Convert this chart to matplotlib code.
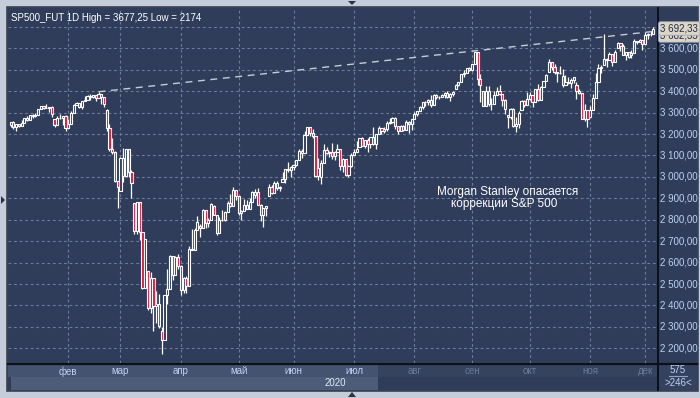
import matplotlib
matplotlib.use("Agg")
import matplotlib.pyplot as plt
from matplotlib.patches import Rectangle, Polygon

# ---------------- data ----------------
title_text = "SP500_FUT 1D High = 3677,25 Low = 2174"
note_lines = ["Morgan Stanley опасается", "коррекции S&P 500"]
month_labels = ["фев", "мар", "апр", "май", "июн", "июл", "авг", "сен", "окт", "ноя", "дек"]
month_start_idx = [21, 40, 62, 83, 103, 125, 147, 168, 189, 211, 231]
year_label = "2020"
price_ticks = [2200, 2300, 2400, 2500, 2600, 2700, 2800, 2900, 3000,
               3100, 3200, 3300, 3400, 3500, 3600]
grid_levels = price_ticks + [3700]
last_label = "3 692,33"
last_value = 3692.33
second_label = "3 682,33"
second_value = 3660.0
bars_total = "575"
bars_visible = ">246<"
trend_idx = [32, 169]
trend_val = [3397, 3588]

opens = [
3240,3258,3235,3246,3237,3253,3275,3265,3288,3283,3289,3317,3330,3321,3322,3326,3270,3244,3276,3273,3284,
3226,3249,3298,3335,3346,3328,3352,3358,3379,3374,3380,3370,3386,3373,3312,3226,3128,3116,2979,
2935,3090,3003,3130,3024,2880,2747,2882,2741,2481,2560,2386,2529,2398,2409,2280,2237,2447,2476,2630,2541,2627,
2585,2471,2527,2489,2664,2659,2750,2770,2762,2846,2783,2800,2865,2823,2737,2799,2798,2837,2878,2863,2940,
2912,2831,2843,2868,2848,2881,2915,2930,2870,2820,2853,2910,2954,2923,2972,2949,2975,2992,3036,3030,
3044,3056,3081,3123,3112,3194,3232,3207,3190,3002,3000,3067,3125,3113,3115,3098,3118,3131,3050,3084,3009,3053,
3100,3116,3140,3180,3145,3170,3152,3185,3155,3198,3227,3216,3225,3252,3257,3276,3236,3216,3239,3218,3258,3246,
3271,3295,3307,3328,3349,3351,3360,3334,3380,3373,3373,3382,3390,3375,3386,3410,3431,3444,3479,3485,3508,
3500,3527,3581,3455,3400,3332,3399,3339,3341,3384,3401,3385,3357,3290,3281,3316,3237,3247,3310,3352,3335,
3363,3381,3348,3409,3361,3419,3447,3490,3534,3512,3489,3483,3470,3427,3443,3436,3453,3430,3401,3391,3271,3310,
3280,3310,3369,3443,3510,3520,3551,3546,3573,3537,3600,3627,3610,3568,3582,3570,3578,3635,3630,3638,
3622,3662,3669,3667]

highs = [
3258,3260,3247,3246,3267,3276,3283,3288,3294,3299,3317,3330,3331,3338,3327,3333,3272,3286,3293,3286,3288,
3268,3307,3338,3348,3346,3352,3376,3381,3385,3381,3380,3397,3389,3373,3315,3247,3183,3120,2980,
3091,3137,3131,3131,3030,2880,2883,2882,2745,2711,2562,2554,2530,2467,2453,2300,2450,2571,2637,2632,2632,2641,
2589,2533,2538,2677,2757,2761,2819,2782,2852,2846,2807,2879,2869,2824,2815,2845,2843,2888,2921,2955,2940,
2912,2844,2898,2891,2902,2932,2944,2946,2874,2853,2865,2968,2964,2980,2979,2957,3022,3036,3069,3049,
3062,3081,3131,3129,3212,3233,3232,3223,3190,3088,3080,3153,3141,3120,3156,3121,3155,3131,3086,3084,3054,3112,
3128,3166,3183,3184,3172,3180,3187,3235,3201,3238,3227,3233,3259,3277,3279,3280,3236,3241,3244,3265,3260,3272,
3303,3307,3331,3351,3353,3363,3381,3388,3387,3379,3388,3395,3400,3391,3400,3432,3444,3481,3501,3509,3515,
3528,3588,3581,3479,3400,3425,3426,3369,3403,3419,3429,3385,3362,3290,3320,3323,3279,3307,3361,3358,3394,
3397,3381,3410,3432,3426,3447,3482,3550,3534,3528,3489,3516,3502,3477,3465,3461,3466,3441,3410,3391,3341,3312,
3330,3389,3486,3529,3522,3668,3557,3581,3573,3594,3629,3627,3619,3585,3583,3590,3642,3636,3644,3638,
3678,3671,3683,3699]

lows = [
3235,3222,3214,3232,3236,3253,3261,3265,3277,3280,3289,3317,3316,3320,3302,3281,3234,3244,3272,3243,3215,
3226,3249,3298,3334,3322,3318,3352,3358,3360,3366,3356,3370,3341,3328,3214,3119,3109,2977,2856,
2935,2977,3003,3000,2902,2734,2734,2707,2479,2481,2381,2367,2281,2320,2296,2174,2237,2408,2476,2520,2541,2571,
2447,2456,2460,2489,2658,2659,2750,2721,2762,2762,2764,2800,2820,2727,2737,2794,2792,2837,2861,2863,2892,
2822,2798,2843,2848,2848,2881,2903,2870,2793,2767,2817,2910,2922,2923,2939,2934,2975,2970,3023,2999,
3032,3052,3081,3090,3112,3194,3193,3181,3000,2984,2966,3067,3108,3094,3083,3079,3118,3032,3024,3005,3000,3048,
3100,3116,3140,3143,3137,3116,3136,3149,3128,3198,3199,3206,3215,3248,3253,3223,3200,3214,3216,3218,3204,3220,
3271,3286,3307,3318,3329,3335,3326,3334,3363,3362,3373,3370,3370,3355,3379,3410,3426,3444,3468,3484,3493,
3495,3527,3427,3350,3329,3332,3329,3310,3341,3384,3384,3329,3292,3229,3271,3233,3209,3228,3310,3328,3335,
3361,3324,3348,3355,3361,3419,3447,3490,3501,3481,3441,3480,3420,3427,3433,3415,3440,3365,3389,3269,3260,3234,
3280,3310,3369,3443,3484,3520,3512,3546,3519,3537,3600,3589,3567,3544,3557,3553,3578,3618,3629,3594,
3622,3645,3657,3667]

closes = [
3258,3235,3246,3237,3253,3275,3265,3288,3283,3289,3317,3330,3321,3322,3326,3295,3244,3276,3273,3284,3226,
3249,3298,3335,3346,3328,3352,3358,3379,3374,3380,3370,3386,3373,3338,3226,3128,3116,2979,2954,
3090,3003,3130,3024,2972,2747,2882,2741,2481,2711,2386,2529,2398,2409,2305,2237,2447,2476,2630,2541,2627,2585,
2471,2527,2489,2664,2659,2750,2790,2762,2846,2783,2800,2875,2823,2737,2799,2798,2837,2878,2863,2940,2912,
2831,2843,2868,2848,2881,2930,2930,2870,2820,2853,2864,2954,2923,2972,2949,2955,2992,3036,3030,3044,
3056,3081,3123,3112,3194,3232,3207,3190,3002,3041,3067,3125,3113,3115,3098,3118,3131,3050,3084,3009,3053,3100,
3116,3130,3180,3145,3170,3152,3185,3155,3198,3227,3216,3225,3252,3257,3276,3236,3216,3239,3218,3258,3246,3271,
3295,3307,3328,3349,3351,3360,3334,3380,3373,3373,3382,3390,3375,3386,3397,3431,3444,3479,3485,3508,3500,
3527,3581,3455,3427,3332,3399,3339,3341,3384,3401,3385,3357,3319,3281,3316,3237,3247,3298,3352,3335,3363,
3381,3348,3409,3361,3419,3447,3477,3534,3512,3489,3483,3484,3427,3443,3436,3453,3465,3401,3391,3271,3310,3270,
3310,3369,3443,3510,3509,3551,3546,3573,3537,3585,3627,3610,3568,3582,3558,3578,3635,3630,3638,3622,
3662,3669,3667,3692]

# ---------------- style ----------------
W, H = 700, 398
BG_OUT = "#c4cdd9"
BG_PLOT = "#2f3d5b"
GRID = "#6b7b9a"
RED = "#e3143c"
AX_TXT = "#bdd2f0"
FONT = "Liberation Sans"

PX0, PY0, PX1, PY1 = 8, 8, 657, 363       # plot area in pixels
X_OFF, X_STEP = 10.6, 2.747                # bar 0 position and spacing in px
Y_TOP, Y_BOT = 3788.0, 2131.5

fig = plt.figure(figsize=(7, 3.98), dpi=100)
fig.patch.set_facecolor(BG_OUT)

# pixel overlay for decoration
deco = fig.add_axes([0, 0, 1, 1], zorder=0)
deco.set_xlim(0, W)
deco.set_ylim(H, 0)
deco.axis("off")

def rect(x0, y0, x1, y1, fc, ec="none", lw=0, z=1):
    deco.add_patch(Rectangle((x0, y0), x1 - x0, y1 - y0, facecolor=fc,
                             edgecolor=ec, linewidth=lw, zorder=z))

rect(7, 7, 698, 391, BG_PLOT, ec="#3b4252", lw=1.2)
# bottom time band
rect(8, 363, 378, 377, "#44536f")
rect(11, 377, 378, 390, "#4d5d79")
rect(378, 363, 657, 377, "#35435f")
rect(378, 377, 657, 390, "#2f3d5b")
rect(658, 363, 697, 390, "#34425f")
deco.plot([8, 697], [363.5, 363.5], color="#0c0f16", lw=1.6, zorder=3)
deco.plot([657.5, 657.5], [8, 390], color="#0c0f16", lw=1.4, zorder=3)
deco.plot([669, 687], [376, 376], color="#8fa3c4", lw=0.8, zorder=3)
deco.text(678, 370, bars_total, ha="center", va="center", fontsize=7,
          color=AX_TXT, family=FONT, zorder=4)
deco.text(678, 383, bars_visible, ha="center", va="center", fontsize=7,
          color=AX_TXT, family=FONT, zorder=4)

# small scroll arrows
deco.add_patch(Polygon([[348, 1], [356, 1], [352, 5]], closed=True,
                       facecolor="#2c3444", edgecolor="none", zorder=4))
deco.add_patch(Polygon([[348, 397], [356, 397], [352, 392]], closed=True,
                       facecolor="#2c3444", edgecolor="none", zorder=4))
deco.add_patch(Polygon([[1, 196], [1, 204], [5, 200]], closed=True,
                       facecolor="#2c3444", edgecolor="none", zorder=4))

# ---------------- main price axes ----------------
ax = fig.add_axes([PX0 / W, 1 - PY1 / H, (PX1 - PX0) / W, (PY1 - PY0) / H], zorder=2)
ax.set_facecolor(BG_PLOT)
ax.set_xlim((PX0 - X_OFF) / X_STEP, (PX1 - X_OFF) / X_STEP)
ax.set_ylim(Y_BOT, Y_TOP)
for s in ax.spines.values():
    s.set_visible(False)
ax.set_xticks([])
ax.set_yticks([])

for lv in grid_levels:
    ax.axhline(lv, color=GRID, lw=0.8, ls=(0, (2.5, 2.5)), zorder=1)
for mi in month_start_idx:
    ax.axvline(mi, color=GRID, lw=0.8, ls=(0, (2.5, 2.5)), zorder=1)

bw = 0.78
for i, (o, h, l, c) in enumerate(zip(opens, highs, lows, closes)):
    ax.plot([i, i], [l, h], color="white", lw=0.9, zorder=3, solid_capstyle="butt")
    lo, hi = min(o, c), max(o, c)
    if hi - lo < 2:
        hi = lo + 2
    fc = RED if c < o else BG_PLOT
    ax.add_patch(Rectangle((i - bw / 2, lo), bw, hi - lo, facecolor=fc,
                           edgecolor="white", linewidth=0.8, zorder=4))

# trend line
slope = (trend_val[1] - trend_val[0]) / (trend_idx[1] - trend_idx[0])
x_end = (PX1 - X_OFF) / X_STEP
ax.plot([trend_idx[0], x_end],
        [trend_val[0], trend_val[0] + slope * (x_end - trend_idx[0])],
        color="#c8ccd4", lw=1.0, ls=(0, (5, 4)), zorder=5)

ax.text(0.004, 0.985, title_text, transform=ax.transAxes, ha="left", va="top",
        color="white", fontsize=7, family=FONT, zorder=6)

# ---------------- right price scale ----------------
rax = fig.add_axes([(PX1 + 1) / W, 1 - PY1 / H, (697 - PX1 - 1) / W, (PY1 - PY0) / H], zorder=2)
rax.set_facecolor(BG_PLOT)
rax.set_ylim(Y_BOT, Y_TOP)
rax.set_xlim(0, 1)
rax.axis("off")
for p in price_ticks:
    lab = f"{p // 1000} {p % 1000:03d},00"
    rax.text(0.06, p, lab, ha="left", va="center", fontsize=7, color=AX_TXT,
             family=FONT)
bbox = dict(boxstyle="round,pad=0.18", facecolor="#ddd6c6", edgecolor="#9aa6ba", lw=0.6)
rax.text(0.06, second_value, second_label, ha="left", va="center", fontsize=7,
         color="#1d2a48", family=FONT, bbox=bbox, zorder=5)
rax.text(0.06, last_value, last_label, ha="left", va="center", fontsize=7,
         color="#1d2a48", family=FONT, bbox=bbox, zorder=6)

# ---------------- time axis labels ----------------
tax = fig.add_axes([PX0 / W, 1 - 390 / H, (PX1 - PX0) / W, 27 / H], zorder=3)
tax.set_xlim(ax.get_xlim())
tax.set_ylim(27, 0)
tax.axis("off")
split_idx = (378 - X_OFF) / X_STEP
for mi, lab in zip(month_start_idx, month_labels):
    col = AX_TXT if mi < split_idx else "#6a7a96"
    tax.text(mi, 8.5, lab, ha="center", va="center", fontsize=7, color=col,
             family=FONT)
tax.text((335 - X_OFF) / X_STEP, 20, year_label, ha="center", va="center",
         fontsize=7, color="#dfe8f6", family=FONT)

# ---------------- annotation ----------------
fig.text(508 / W, 1 - 191.5 / H, note_lines[0], ha="center", va="center",
         color="white", fontsize=8.5, family=FONT, zorder=10)
fig.text(504 / W, 1 - 204.5 / H, note_lines[1], ha="center", va="center",
         color="white", fontsize=8.5, family=FONT, zorder=10)

fig.savefig("out.png", dpi=100, facecolor=fig.get_facecolor())
